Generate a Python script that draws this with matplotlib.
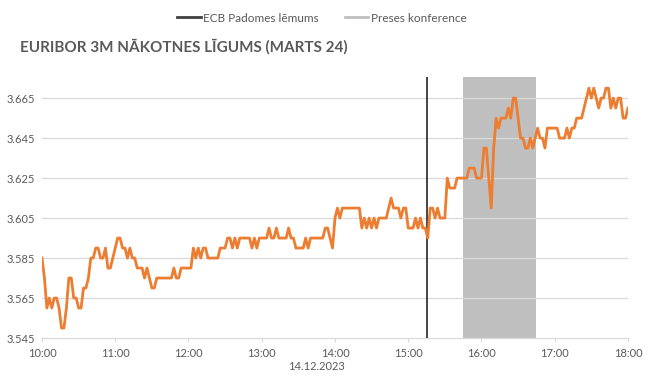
import numpy as np
import matplotlib
matplotlib.use("Agg")
import matplotlib.pyplot as plt
from matplotlib.lines import Line2D

plt.rcParams['font.family'] = ['Lato', 'DejaVu Sans']

# EURIBOR 3M futures (March 24), 14.12.2023, one reading every 2 minutes from 10:00
start_hour = 10
step_min = 2
prices = [
    3.585, 3.575, 3.56, 3.565, 3.56, 3.565, 3.565, 3.56, 3.55, 3.55,
    3.56, 3.575, 3.575, 3.565, 3.565, 3.56, 3.56, 3.57, 3.57, 3.575,
    3.585, 3.585, 3.59, 3.59, 3.585, 3.585, 3.59, 3.58, 3.58, 3.585,
    3.59, 3.595, 3.595, 3.59, 3.59, 3.585, 3.59, 3.585, 3.585, 3.58,
    3.58, 3.58, 3.575, 3.58, 3.575, 3.57, 3.57, 3.575, 3.575, 3.575,
    3.575, 3.575, 3.575, 3.575, 3.58, 3.575, 3.575, 3.58, 3.58, 3.58,
    3.58, 3.58, 3.59, 3.585, 3.59, 3.585, 3.59, 3.59, 3.585, 3.585,
    3.585, 3.585, 3.585, 3.59, 3.59, 3.59, 3.595, 3.595, 3.59, 3.595,
    3.59, 3.595, 3.595, 3.595, 3.595, 3.595, 3.59, 3.595, 3.59, 3.595,
    3.595, 3.595, 3.595, 3.6, 3.595, 3.595, 3.6, 3.595, 3.595, 3.595,
    3.595, 3.6, 3.595, 3.595, 3.59, 3.59, 3.59, 3.59, 3.595, 3.59,
    3.595, 3.595, 3.595, 3.595, 3.595, 3.595, 3.6, 3.6, 3.595, 3.59,
    3.605, 3.61, 3.605, 3.61, 3.61, 3.61, 3.61, 3.61, 3.61, 3.61,
    3.61, 3.6, 3.605, 3.6, 3.605, 3.6, 3.605, 3.6, 3.605, 3.605,
    3.605, 3.605, 3.61, 3.615, 3.61, 3.61, 3.61, 3.605, 3.61, 3.61,
    3.6, 3.6, 3.6, 3.605, 3.6, 3.605, 3.6, 3.6, 3.595, 3.61,
    3.61, 3.605, 3.61, 3.605, 3.605, 3.605, 3.625, 3.62, 3.62, 3.62,
    3.625, 3.625, 3.625, 3.625, 3.625, 3.63, 3.63, 3.63, 3.625, 3.625,
    3.625, 3.64, 3.64, 3.625, 3.61, 3.64, 3.655, 3.65, 3.655, 3.655,
    3.655, 3.66, 3.655, 3.665, 3.665, 3.655, 3.645, 3.645, 3.64, 3.64,
    3.645, 3.64, 3.645, 3.65, 3.645, 3.645, 3.64, 3.65, 3.65, 3.65,
    3.65, 3.65, 3.645, 3.645, 3.645, 3.65, 3.645, 3.65, 3.65, 3.655,
    3.655, 3.655, 3.66, 3.665, 3.67, 3.665, 3.67, 3.665, 3.66, 3.665,
    3.665, 3.67, 3.67, 3.66, 3.665, 3.66, 3.665, 3.665, 3.655, 3.655,
    3.66,
]

ecb_decision = 15.25          # 15:15
press_conf = (15.75, 16.75)   # 15:45 - 16:45
hour_ticks = [10, 11, 12, 13, 14, 15, 16, 17, 18]
hour_labels = ["10:00", "11:00", "12:00", "13:00", "14:00",
               "15:00", "16:00", "17:00", "18:00"]
y_ticks = [3.545, 3.565, 3.585, 3.605, 3.625, 3.645, 3.665]
date_label = "14.12.2023"
title = "EURIBOR 3M NĀKOTNES LĪGUMS (MARTS 24)"

text_col = "#595959"
orange = "#ED7D31"

times = start_hour + np.arange(len(prices)) * step_min / 60.0

fig = plt.figure(figsize=(6.5, 3.77), dpi=100)
ax = fig.add_axes([0.0646, 0.1034, 0.9015, 0.692])

ax.axvspan(press_conf[0], press_conf[1], color="#BFBFBF", lw=0, zorder=1)
for yv in y_ticks[1:]:
    ax.axhline(yv, color="#D9D9D9", lw=0.9, zorder=2)
ax.axvline(ecb_decision, color="#262626", lw=1.2, zorder=3)
ax.plot(times, prices, color=orange, lw=2.0, zorder=4, solid_joinstyle="round")

ax.set_xlim(10, 18)
ax.set_ylim(3.545, 3.6755)
ax.set_xticks(hour_ticks)
ax.set_xticklabels(hour_labels)
ax.set_yticks(y_ticks)
ax.set_yticklabels([f"{v:.3f}" for v in y_ticks])

for side in ["top", "right", "left"]:
    ax.spines[side].set_visible(False)
ax.spines["bottom"].set_color("#D9D9D9")
ax.spines["bottom"].set_linewidth(0.9)
ax.tick_params(axis="x", colors="#D9D9D9", labelcolor=text_col, labelsize=8,
               length=3, width=0.8, pad=4)
ax.tick_params(axis="y", length=0, labelcolor=text_col, labelsize=8, pad=5)

ax.text(0.469, -0.11, date_label, transform=ax.transAxes, ha="center",
        va="center", fontsize=8, color=text_col)

fig.text(0.031, 0.875, title, fontsize=11, fontweight="bold", color=text_col,
         ha="left", va="center")

handles = [Line2D([], [], color="#404040", lw=2),
           Line2D([], [], color="#BFBFBF", lw=2)]
fig.legend(handles, ["ECB Padomes lēmums", "Preses konference"],
           loc="center", bbox_to_anchor=(0.495, 0.952), ncol=2, frameon=False,
           fontsize=8.5, labelcolor=text_col, handlelength=2.0, handletextpad=0.2,
           columnspacing=2.2)

fig.savefig("out.png", dpi=100)
